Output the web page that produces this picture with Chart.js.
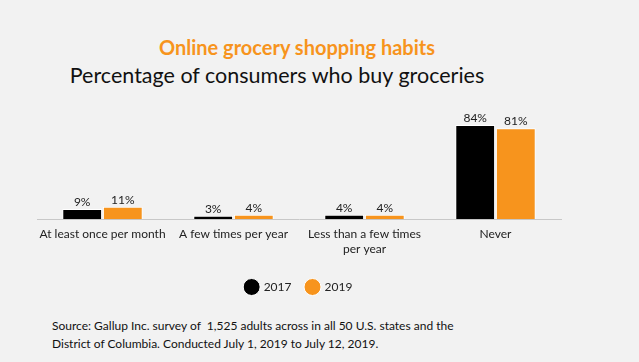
<!DOCTYPE html>
<html><head><meta charset="utf-8">
<script src="https://cdn.jsdelivr.net/npm/chart.js@4"></script>
<style>
html,body{margin:0;padding:0;background:#f2f2f2;width:639px;height:362px;overflow:hidden;font-family:Lato,sans-serif;}
#wrap{position:absolute;left:0;top:0;width:580px;height:310px;}
.t1{position:absolute;top:35px;left:0;width:594px;text-align:center;color:#f7941d;font-weight:bold;font-size:20px;}
.t2{position:absolute;top:62px;left:0;width:554px;text-align:center;color:#111;font-size:21.5px;}
.src{position:absolute;left:52px;top:317px;font-size:12px;line-height:18px;color:#111;}
</style></head>
<body>
<div class="t1">Online grocery shopping habits</div>
<div class="t2">Percentage of consumers who buy groceries</div>
<div id="wrap"><canvas id="c"></canvas></div>
<div class="src">Source: Gallup Inc. survey of&nbsp; 1,525 adults across in all 50 U.S. states and the<br>District of Columbia. Conducted July 1, 2019 to July 12, 2019.</div>
<script>
const categories = [["At least once per month"], ["A few times per year"], ["Less than a few times", "per year"], ["Never"]];
const seriesNames = ["2017", "2019"];
const values2017 = [9, 3, 4, 84];
const values2019 = [11, 4, 4, 81];

const valueLabels = {
  id: 'valueLabels',
  afterDatasetsDraw(chart) {
    const ctx = chart.ctx;
    ctx.save();
    ctx.font = '12px Lato';
    ctx.fillStyle = '#222';
    ctx.textAlign = 'center';
    ctx.textBaseline = 'bottom';
    chart.data.datasets.forEach((ds, i) => {
      chart.getDatasetMeta(i).data.forEach((bar, j) => {
        ctx.fillText(ds.data[j] + '%', bar.x, bar.y - 1);
      });
    });
    ctx.restore();
  }
};

new Chart(document.getElementById('c'), {
  type: 'bar',
  data: {
    labels: categories,
    datasets: [
      {label: seriesNames[0], data: values2017, backgroundColor: '#000000', borderColor: '#ffffff', borderWidth: 1},
      {label: seriesNames[1], data: values2019, backgroundColor: '#f7941d', borderColor: '#ffffff', borderWidth: 1}
    ]
  },
  options: {
    responsive: true,
    maintainAspectRatio: false,
    animation: false,
    layout: {padding: {left: 37, right: 19, top: 107, bottom: 7}},
    datasets: {bar: {categoryPercentage: 0.62, barPercentage: 0.98}},
    scales: {
      x: {
        grid: {display: false},
        border: {display: true, color: '#c8c8c8', width: 1},
        ticks: {color: '#222', font: {family: 'Lato', size: 12}, maxRotation: 0, autoSkip: false, padding: 0}
      },
      y: {display: false, min: 0, max: 100}
    },
    plugins: {
      legend: {
        position: 'bottom',
        title: {display: true, text: ' ', font: {size: 5}, padding: {top: 0, bottom: 4}},
        labels: {usePointStyle: true, pointStyle: 'circle', color: '#222', font: {family: 'Lato', size: 12}, padding: 15, boxHeight: 12}
      },
      tooltip: {enabled: false}
    }
  },
  plugins: [valueLabels]
});
</script>
</body></html>
